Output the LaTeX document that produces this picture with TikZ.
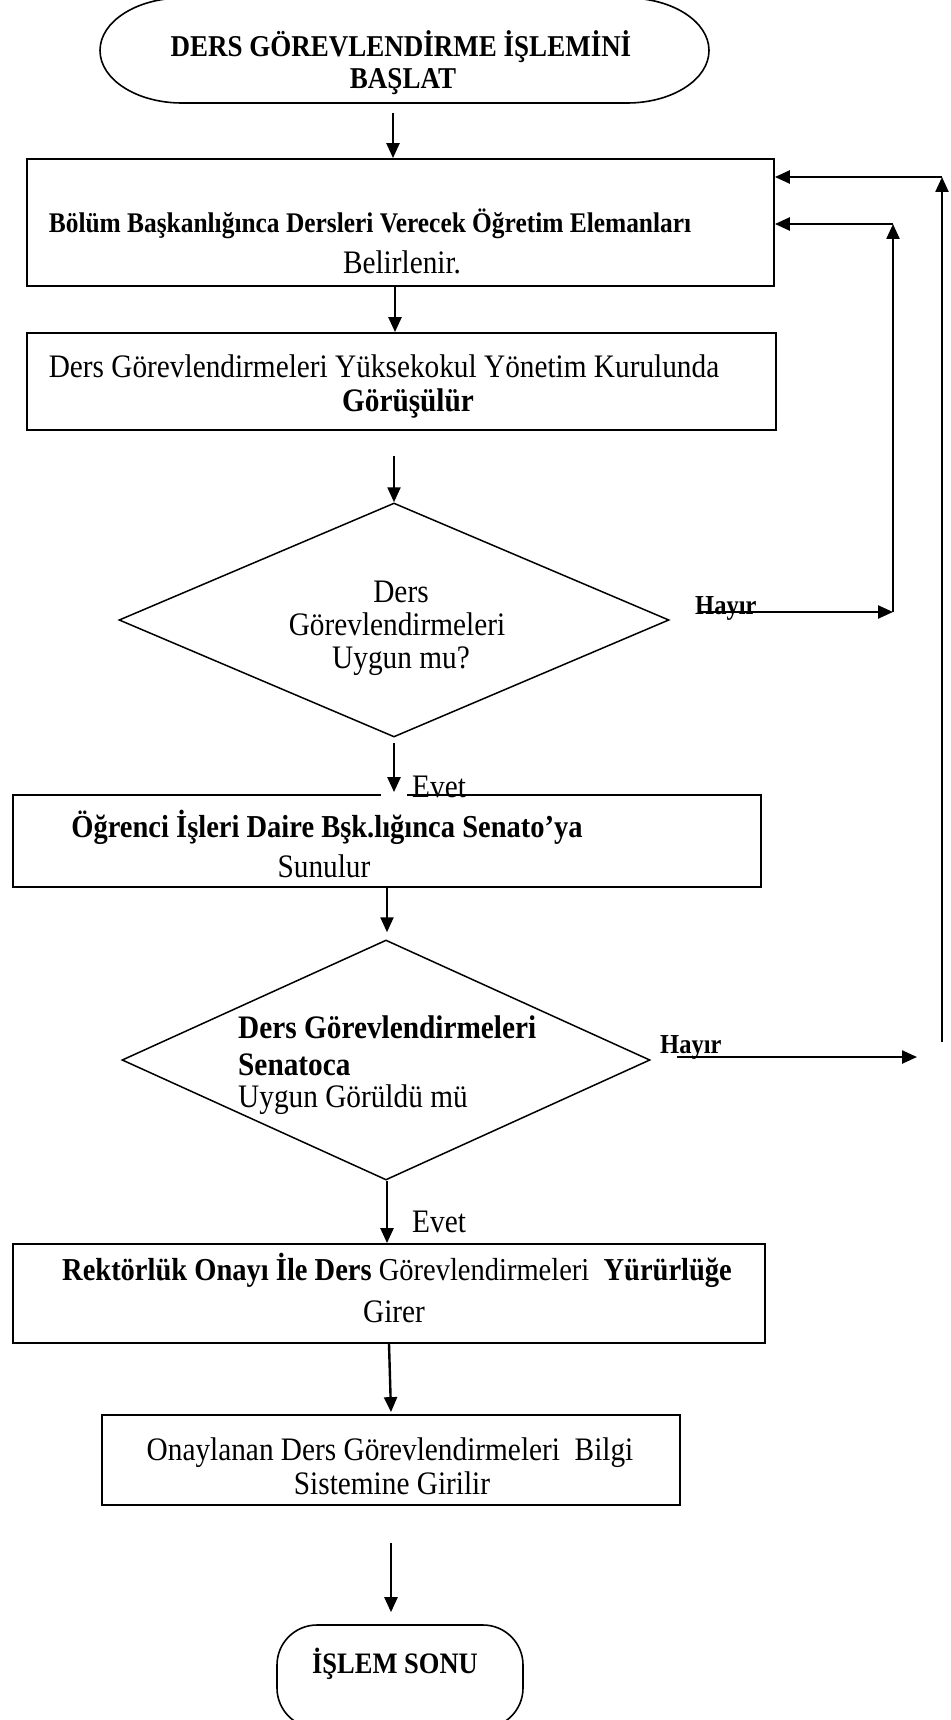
\documentclass[tikz,border=0pt]{standalone}
\usepackage{fontspec}
\setmainfont{Liberation Serif}
\usetikzlibrary{arrows.meta,shapes.geometric}
\newcommand{\rsz}{\fontsize{29.3}{34}\selectfont}
% slightly tall lettering
\newcommand{\vst}[1]{\scalebox{1}[1.12]{#1}}
\begin{document}
\begin{tikzpicture}[x=1pt,y=-1pt,
  box/.style={draw, line width=1.8pt, inner sep=0pt},
  dec/.style={draw, diamond, line width=1.5pt, inner sep=0pt},
  arr/.style={line width=2.4pt, -{Triangle[length=15pt,width=13pt]}},
  txt/.style={inner sep=0pt, anchor=base},
  txtw/.style={inner sep=0pt, anchor=base west},
]
\useasboundingbox (0,0) rectangle (950,1720);

% start terminator (outline drawn around an empty node)
\node[inner sep=0pt, minimum width=609pt, minimum height=105pt] (start) at (404.5,50.5) {};
\draw[line width=1.6pt] (182,-2) -- (627,-2)
  .. controls (672.3,-2) and (709,21.5) .. (709,50.5)
  .. controls (709,79.5) and (672.3,103) .. (627,103) -- (182,103)
  .. controls (136.7,103) and (100,79.5) .. (100,50.5)
  .. controls (100,21.5) and (136.7,-2) .. (182,-2) -- cycle;
\node[txt, font=\fontsize{27}{32}\selectfont\bfseries] (st1) at (401,57) {\vst{DERS GÖREVLENDİRME İŞLEMİNİ}};
\node[txt, font=\fontsize{27}{32}\selectfont\bfseries] (st2) at (403,89) {\vst{BAŞLAT}};

% process boxes
\node[box, minimum width=747pt, minimum height=127pt] (box1) at (400.5,222.5) {};
\node[txt, font=\fontsize{25.4}{30}\selectfont\bfseries] (b1a) at (370,233) {\vst{Bölüm Başkanlığınca Dersleri Verecek Öğretim Elemanları}};
\node[txt, font=\rsz] (b1b) at (402,273) {\vst{Belirlenir.}};

\node[box, minimum width=749pt, minimum height=97pt] (box2) at (401.5,381.5) {};
\node[txt, font=\rsz] (b2a) at (384,377) {\vst{Ders Görevlendirmeleri Yüksekokul Yönetim Kurulunda}};
\node[txt, font=\rsz\bfseries] (b2b) at (408,411) {\vst{Görüşülür}};

% first decision
\node[dec, minimum width=550pt, minimum height=234pt] (d1) at (394,620) {};
\node[txt, font=\rsz] (d1a) at (401,602) {\vst{Ders}};
\node[txt, font=\rsz] (d1b) at (397,635) {\vst{Görevlendirmeleri}};
\node[txt, font=\rsz] (d1c) at (401,668) {\vst{Uygun mu?}};

\node[box, minimum width=748pt, minimum height=92pt] (box3) at (387,841) {};
\fill[white] (381,790) rectangle (407,800);
\node[txt, font=\fontsize{28.5}{33}\selectfont\bfseries] (b3a) at (327,837) {\vst{Öğrenci İşleri Daire Bşk.lığınca Senato’ya}};
\node[txt, font=\rsz] (b3b) at (324,877) {\vst{Sunulur}};

% second decision
\node[dec, minimum width=528pt, minimum height=240pt] (d2) at (386,1060) {};
\node[txtw, font=\rsz\bfseries] (d2a) at (238,1038) {\vst{Ders Görevlendirmeleri}};
\node[txtw, font=\rsz\bfseries] (d2b) at (238,1075) {\vst{Senatoca}};
\node[txtw, font=\rsz] (d2c) at (238,1107) {\vst{Uygun Görüldü mü}};

\node[box, minimum width=752pt, minimum height=99pt] (box4) at (389,1293.5) {};
\node[txt, font=\fontsize{28.5}{33}\selectfont] (b4a) at (397,1280) {\vst{\textbf{Rektörlük Onayı İle Ders} Görevlendirmeleri\ \ \textbf{Yürürlüğe}}};
\node[txt, font=\rsz] (b4b) at (394,1322) {\vst{Girer}};

\node[box, minimum width=578pt, minimum height=90pt] (box5) at (391,1460) {};
\node[txt, font=\rsz] (b5a) at (390,1460) {\vst{Onaylanan Ders Görevlendirmeleri\ \ Bilgi}};
\node[txt, font=\rsz] (b5b) at (392,1494) {\vst{Sistemine Girilir}};

% end terminator
\node[draw, line width=1.6pt, rounded corners=40pt, minimum width=246pt, minimum height=103pt, inner sep=0pt] (end) at (400,1676.5) {};
\node[txt, font=\fontsize{26.5}{31}\selectfont\bfseries] (e1) at (395,1673) {\vst{İŞLEM SONU}};

% main flow
\draw[arr] ([xshift=-11.5pt,yshift=-10pt]start.south) -- ([xshift=-7.5pt]box1.north);
\draw[arr] ([xshift=-5.5pt]box1.south) -- ([xshift=-6.5pt]box2.north);
\draw[arr] ([xshift=-7.5pt,yshift=-25pt]box2.south) -- (d1.north);
\draw[arr] ([yshift=-5pt]d1.south) -- ([xshift=7pt,yshift=2pt]box3.north);
\draw[arr] (box3.south) -- ([xshift=1pt,yshift=7pt]d2.north);
\draw[arr] ([xshift=1pt]d2.south) -- ([xshift=-2pt]box4.north);
\draw[arr] (box4.south) -- ([yshift=2pt]box5.north);
\draw[arr] ([yshift=-37pt]box5.south) -- ([xshift=-9pt,yshift=12pt]end.north);

\node[txtw, font=\rsz] (ev1) at (412,797) {\vst{Evet}};
\node[txtw, font=\rsz] (ev2) at (412,1232) {\vst{Evet}};

% return paths
\coordinate (h1s) at (700,612);
\coordinate (h1e) at (893,612);
\coordinate (h1t) at (893,224);
\draw[arr] (h1s) -- (h1e);
\draw[arr] (h1e) -- (h1t);
\draw[arr] (h1t) -- (box1.east |- h1t);
\node[txtw, font=\fontsize{24.5}{29}\selectfont\bfseries] (hy1) at (695,614) {\vst{Hayır}};

\coordinate (h2s) at (677,1057);
\coordinate (h2e) at (917,1057);
\coordinate (h2b) at (942,1042);
\coordinate (h2t) at (942,177);
\draw[arr] (h2s) -- (h2e);
\draw[arr] (h2b) -- (h2t);
\draw[arr] (h2t) -- (box1.east |- h2t);
\node[txtw, font=\fontsize{24.5}{29}\selectfont\bfseries] (hy2) at (660,1053) {\vst{Hayır}};
\end{tikzpicture}
\end{document}
